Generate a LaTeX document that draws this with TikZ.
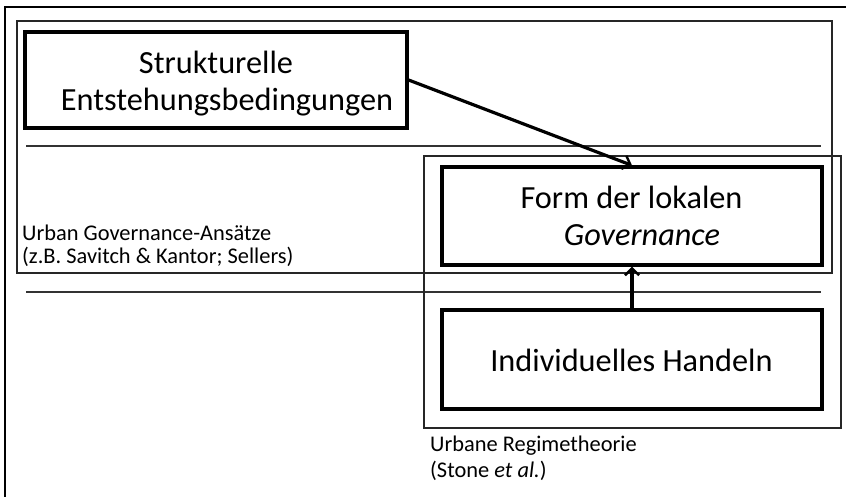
\documentclass[tikz,border=0pt]{standalone}
\usepackage{fontspec}
\setmainfont{Carlito}
\usetikzlibrary{arrows.meta}
\begin{document}
\begin{tikzpicture}[x=1pt,y=-1pt,
  thickbox/.style={draw=black,line width=3.2pt,inner sep=0pt},
  thinframe/.style={draw=black!85,line width=1.4pt},
  sepline/.style={draw=black!80,line width=1.4pt},
  bigtext/.style={inner sep=0pt,anchor=base,font=\fontsize{32.3}{38}\selectfont},
  smalltext/.style={inner sep=0pt,anchor=base west,font=\fontsize{22.4}{23}\selectfont},
  arr/.style={line width=3.2pt,-{Straight Barb[length=7pt,width=14pt,line width=2.4pt]}}]
\useasboundingbox (0,0) rectangle (846,496);
\fill[white] (0,0) rectangle (846,496);
% outer frame (cropped)
\draw[line width=2.5pt] (5,520) -- (5,7) -- (870,7);
% Urban governance frame
\draw[thinframe] (17,21) rectangle (832,273);
% separator lines
\draw[sepline] (26,146) -- (821,146);
\draw[sepline] (26,292) -- (821,292);
% regime frame
\draw[thinframe] (424,156) rectangle (841,428);
% boxes
\node[thickbox,minimum width=382pt,minimum height=96pt,fill=white] (struk) at (216,80) {};
\node[thickbox,minimum width=380pt,minimum height=98pt,fill=white] (form) at (632,216) {};
\node[thickbox,minimum width=380pt,minimum height=99pt] (indiv) at (632,359.5) {};
% texts
\node[bigtext] (t1) at (216,73) {Strukturelle};
\node[bigtext] (t2) at (227,110) {Entstehungsbedingungen};
\node[bigtext] (t3) at (631.5,208) {Form der lokalen};
\node[bigtext] (t4) at (642,245) {\itshape Governance};
\node[bigtext] (t5) at (631.5,371) {Individuelles Handeln};
\node[smalltext] (u1) at (22,240) {Urban Governance-Ansätze};
\node[smalltext] (u2) at (22,263) {(z.B. Savitch \& Kantor; Sellers)};
\node[smalltext] (r1) at (430,451) {Urbane Regimetheorie};
\node[smalltext] (r2) at (430,477) {(Stone \textit{et al.})};
% arrows
\draw[arr] (struk.east) -- (form.north);
\draw[arr] (indiv.north) -- (form.south);
\end{tikzpicture}
\end{document}
